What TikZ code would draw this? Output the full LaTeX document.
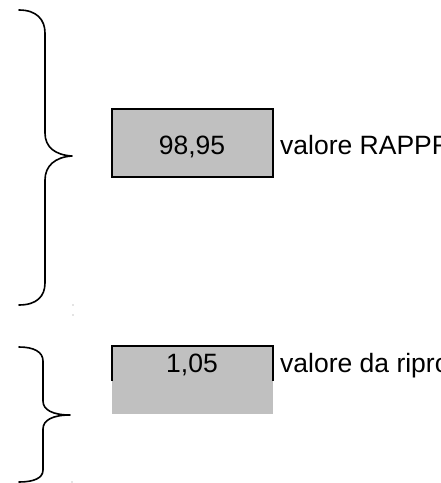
\documentclass[tikz,border=0pt]{standalone}
\usepackage{fontspec}
\setmainfont{Liberation Sans}
\definecolor{boxgray}{HTML}{C0C0C0}
\tikzset{
  brace/.style={line width=1.6pt, line cap=round, line join=round},
  boxline/.style={line width=1.2pt},
  lbl/.style={inner sep=0pt, anchor=base, font=\fontsize{26.5}{30}\selectfont},
  lblw/.style={lbl, anchor=base west},
  speck/.style={fill=black!45, draw=none, circle, inner sep=0pt, minimum size=1.2pt}
}
\begin{document}
\begin{tikzpicture}[x=1pt,y=-1pt]
\useasboundingbox (0,0) rectangle (441,483);
\clip (0,0) rectangle (441,483);
% first brace
\draw[brace] (19,10) .. controls (37,10) and (45,20) .. (45,33)
  -- (45,133) .. controls (45,147) and (55,155) .. (72,156)
  .. controls (55,157) and (45,166) .. (45,180)
  -- (45,283) .. controls (45,296) and (37,305) .. (19,305);
% second brace
\draw[brace] (19,347) .. controls (34,347) and (43,352) .. (43,361)
  -- (43,401) .. controls (43,410) and (53,415) .. (70,415)
  .. controls (53,415) and (43,420) .. (43,429)
  -- (43,470) .. controls (43,478) and (34,482) .. (19,482);
% specks
\node[speck] (s1) at (73,305) {};
\node[speck] (s2) at (73,315) {};
\node[speck] (s3) at (72,482) {};
% box 1
\node[draw, boxline, fill=boxgray, rectangle, minimum width=161pt, minimum height=68pt, inner sep=0pt] (b1) at (192.5,143) {};
\node[lbl] (t1) at (192,154) {98,95};
\node[lblw] (l1) at (280,154) {valore RAPPR};
% box 2
\fill[boxgray] (112,346) rectangle (273,414);
\draw[boxline] (112,381) -- (112,346) -- (273,346) -- (273,381);
\coordinate (b2) at (192.5,380);
\node[lbl] (t2) at (192,372) {1,05};
\node[lblw] (l2) at (280,372) {valore da ripro};
\end{tikzpicture}
\end{document}
